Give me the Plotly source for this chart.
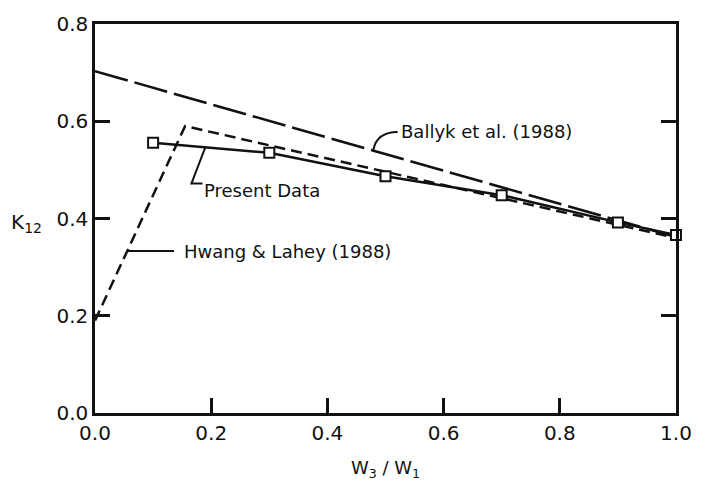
import plotly.graph_objects as go

# Present data (measured)
present_x = [0.1, 0.3, 0.5, 0.7, 0.9, 1.0]
present_y = [0.556, 0.535, 0.487, 0.448, 0.392, 0.366]

# Ballyk et al. (1988) correlation
ballyk_x = [0.0, 1.0]
ballyk_y = [0.703, 0.362]

# Hwang & Lahey (1988) correlation
hwang_x = [0.0, 0.155, 1.0]
hwang_y = [0.19, 0.59, 0.36]

x_ticks = [0.0, 0.2, 0.4, 0.6, 0.8, 1.0]
x_tick_labels = ["0.0", "0.2", "0.4", "0.6", "0.8", "1.0"]
y_ticks = [0.0, 0.2, 0.4, 0.6, 0.8]
y_tick_labels = ["0.0", "0.2", "0.4", "0.6", "0.8"]

FONT = "DejaVu Sans"
BLACK = "#111111"

fig = go.Figure()

fig.add_trace(go.Scatter(x=ballyk_x, y=ballyk_y, mode="lines",
                         line=dict(color=BLACK, width=2.5, dash="34px,7px"),
                         showlegend=False))
fig.add_trace(go.Scatter(x=hwang_x, y=hwang_y, mode="lines",
                         line=dict(color=BLACK, width=2.5, dash="11px,6px"),
                         showlegend=False))
fig.add_trace(go.Scatter(x=present_x, y=present_y, mode="lines+markers",
                         line=dict(color=BLACK, width=2.5),
                         marker=dict(symbol="square", size=10, color="white",
                                     line=dict(color=BLACK, width=2)),
                         showlegend=False, cliponaxis=False))

# leader lines for labels
fig.add_shape(type="path", path="M 0.479,0.541 Q 0.485,0.578 0.521,0.578",
              line=dict(color=BLACK, width=2))
fig.add_shape(type="path", path="M 0.190,0.547 L 0.166,0.472 L 0.185,0.472",
              line=dict(color=BLACK, width=2))
fig.add_shape(type="line", x0=0.056, y0=0.333, x1=0.136, y1=0.333,
              line=dict(color=BLACK, width=2))

fig.add_annotation(x=0.524, y=0.578, text="Ballyk et al. (1988)", showarrow=False,
                   xanchor="left", yanchor="middle", font=dict(size=18, color=BLACK, family=FONT))
fig.add_annotation(x=0.185, y=0.458, text="Present Data", showarrow=False,
                   xanchor="left", yanchor="middle", font=dict(size=18, color=BLACK, family=FONT))
fig.add_annotation(x=0.150, y=0.333, text="Hwang &amp; Lahey (1988)", showarrow=False,
                   xanchor="left", yanchor="middle", font=dict(size=18, color=BLACK, family=FONT))
fig.add_annotation(xref="paper", yref="y", x=-0.148, y=0.39,
                   text="K<sub>12</sub>", showarrow=False, xanchor="left", yanchor="middle",
                   font=dict(size=20, color=BLACK, family=FONT))

fig.update_xaxes(range=[0, 1.0], tickvals=x_ticks, ticktext=x_tick_labels,
                 ticks="inside", ticklen=15, tickwidth=2.5, tickcolor=BLACK,
                 showline=True, linewidth=2.5, linecolor=BLACK, mirror=True,
                 showgrid=False, zeroline=False,
                 tickfont=dict(size=20, color=BLACK, family=FONT),
                 title=dict(text="W<sub>3</sub> / W<sub>1</sub>", standoff=18,
                            font=dict(size=18, color=BLACK, family=FONT)))
fig.update_yaxes(range=[0, 0.8], tickvals=y_ticks, ticktext=y_tick_labels,
                 ticks="inside", ticklen=15, tickwidth=2.5, tickcolor=BLACK,
                 showline=True, linewidth=2.5, linecolor=BLACK, mirror="ticks",
                 showgrid=False, zeroline=False,
                 tickfont=dict(size=20, color=BLACK, family=FONT))

fig.update_layout(width=704, height=492,
                  margin=dict(l=95, r=18, t=17, b=79),
                  plot_bgcolor="white", paper_bgcolor="white")

fig.write_html("out.html")
